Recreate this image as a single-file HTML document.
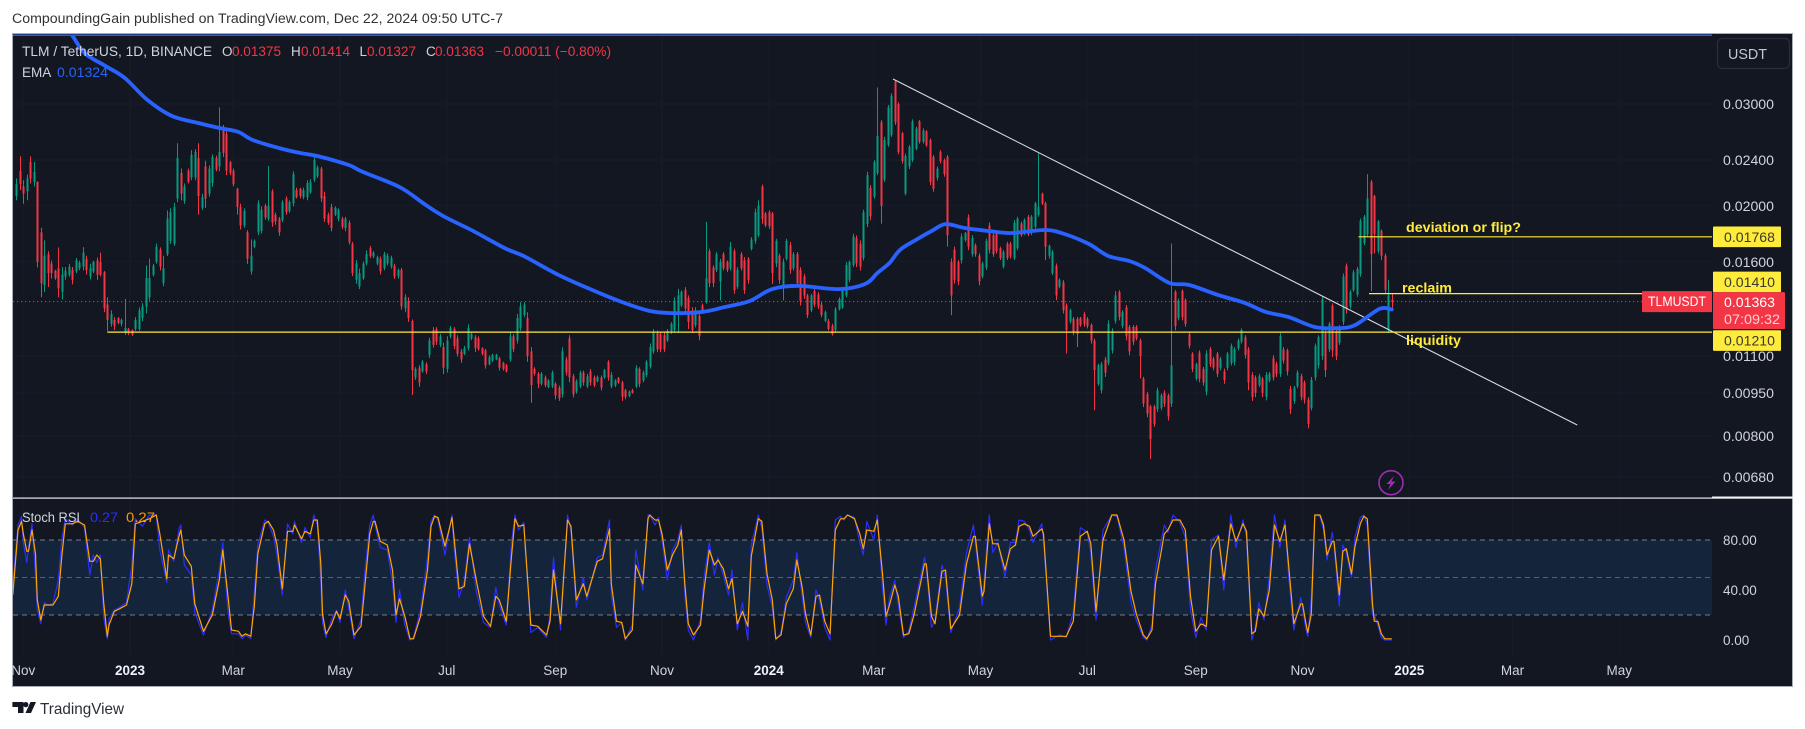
<!DOCTYPE html>
<html lang="en">
<head>
<meta charset="utf-8">
<title>TLM / TetherUS chart</title>
<style>
html,body{margin:0;padding:0;background:#fff;width:1805px;height:729px;overflow:hidden}
svg{display:block;font-family:"Liberation Sans",sans-serif}
</style>
</head>
<body>
<svg id="root" xmlns="http://www.w3.org/2000/svg" width="1805" height="729" viewBox="0 0 1805 729">
  <defs>
    <clipPath id="priceClip"><rect x="13" y="36" width="1699" height="461"/></clipPath>
    <clipPath id="stochClip"><rect x="13" y="499" width="1699" height="160"/></clipPath>
  </defs>
  <text x="12" y="23" font-size="13.5" fill="#333" textLength="491" lengthAdjust="spacingAndGlyphs">CompoundingGain published on TradingView.com, Dec 22, 2024 09:50 UTC-7</text>
  <rect x="12.5" y="33.5" width="1780" height="653" fill="#131722" stroke="#a8abb3" stroke-width="1"/>
  <rect x="13" y="34.5" width="1699" height="1.4" fill="#2962ff"/>
  <g id="grid"></g>
  <g id="stochBand"></g>
  <g id="candles" clip-path="url(#priceClip)"></g>
  <g id="overlays" clip-path="url(#priceClip)"></g>
  <g id="stochLines" clip-path="url(#stochClip)"></g>
  <rect x="13" y="497.5" width="1780" height="1.2" fill="#e8e8ea"/>
  <rect x="1712" y="496.5" width="81" height="2" fill="#f2f2f4"/>

  <g font-size="13.5">
    <text x="22" y="56" fill="#d1d4dc" textLength="190" lengthAdjust="spacingAndGlyphs">TLM / TetherUS, 1D, BINANCE</text>
    <text x="222" y="56" fill="#d1d4dc">O</text>
    <text x="232" y="56" fill="#f23645" textLength="49" lengthAdjust="spacingAndGlyphs">0.01375</text>
    <text x="291" y="56" fill="#d1d4dc">H</text>
    <text x="301" y="56" fill="#f23645" textLength="49" lengthAdjust="spacingAndGlyphs">0.01414</text>
    <text x="359.5" y="56" fill="#d1d4dc">L</text>
    <text x="367" y="56" fill="#f23645" textLength="49" lengthAdjust="spacingAndGlyphs">0.01327</text>
    <text x="426" y="56" fill="#d1d4dc">C</text>
    <text x="435" y="56" fill="#f23645" textLength="49" lengthAdjust="spacingAndGlyphs">0.01363</text>
    <text x="495" y="56" fill="#f23645" textLength="116" lengthAdjust="spacingAndGlyphs">−0.00011 (−0.80%)</text>
    <text x="22" y="77" fill="#d1d4dc">EMA</text>
    <text x="57" y="77" fill="#2962ff" textLength="51" lengthAdjust="spacingAndGlyphs">0.01324</text>
    <text x="22" y="522" fill="#d1d4dc" textLength="58" lengthAdjust="spacingAndGlyphs">Stoch RSI</text>
    <text x="90" y="522" fill="#2a2eff" textLength="28" lengthAdjust="spacingAndGlyphs">0.27</text>
    <text x="126" y="522" fill="#ff9800" textLength="29" lengthAdjust="spacingAndGlyphs">0.27</text>
  </g>

  <g>
    <rect x="1717.5" y="38.5" width="72" height="30" rx="5" fill="#131722" stroke="#2a2e39" stroke-width="1.2"/>
    <text x="1728" y="59" font-size="15" fill="#c4c7d0" textLength="39" lengthAdjust="spacingAndGlyphs">USDT</text>
  </g>

  <g id="axisLabels"></g>
  <g id="priceTags"></g>

  <g>
    <circle cx="1391" cy="482.7" r="12" fill="none" stroke="#9c2fb0" stroke-width="1.6"/>
    <polygon points="1394,476 1386.5,484 1390.5,484 1388,490 1395.5,481.5 1391.5,481.5" fill="#9c2fb0"/>
  </g>

  <g>
    <polygon points="12.4,702 23.5,702 23.5,713 18,713 18,707 12.4,707" fill="#131722"/>
    <circle cx="25.8" cy="704.6" r="2.6" fill="#131722"/>
    <polygon points="30.5,702 36,702 31,713 25.5,713" fill="#131722"/>
    <text x="40" y="714" font-size="16" fill="#2a2e39" textLength="84" lengthAdjust="spacingAndGlyphs">TradingView</text>
  </g>
</svg>
<script>
// ---- Price scale in 1/100000 USDT ----
const highs=[2230,2436,2215,2265,2436,2380,2205,1833,1743,1670,
1608,1550,1695,1568,1568,1588,1568,1625,1608,1697,
1640,1588,1608,1628,1660,1543,1390,1320,1284,1284,
1277,1381,1230,1223,1284,1334,1357,1578,1621,1588,
1721,1695,1640,1964,1980,2024,2566,2320,2186,2320,
2497,2506,2566,2098,2393,2350,2455,2442,2960,2760,
2705,2393,2320,2150,2017,1980,1815,1750,1750,2045,
1996,2017,2343,2137,1947,1914,2045,2078,2045,2295,
2150,2150,2150,2215,2224,2436,2348,2336,2116,1947,
2017,1996,1980,1914,1914,1888,1733,1612,1558,1602,
1675,1705,1670,1640,1635,1665,1655,1640,1588,1558,
1562,1407,1390,1272,1052,1060,1083,1073,1183,1234,
1234,1202,1160,1190,1240,1234,1195,1131,1145,1248,
1210,
1195,1190,1139,1132,1103,1110,1110,1096,1075,1066,
1208,1201,1301,1363,1363,1309,1139,1052,1032,1032,
1018,1003,1038,991,978,1139,1096,1195,1025,1003,
1038,1038,1025,1045,1018,1018,1018,1045,1082,1032,
1003,1012,997,965,959,965,1060,1052,1038,1082,
1156,1225,1217,1209,1209,1225,1259,1390,1437,1428,
1447,1400,1336,1336,1301,1355,1876,1686,1578,1664,
1620,1664,1609,1732,1686,1567,1664,1631,1631,1766,
1978,2045,2177,1952,1965,1952,1754,1653,1620,1754,
1732,1664,1664,1567,1526,1409,1409,1437,1418,1363,
1318,1275,1250,1336,1390,1447,1598,1609,1790,1778,
1743,1970,2290,2172,2399,3205,2814,2633,2988,3130,
3301,3023,2686,2463,2547,2822,2740,2814,2722,2704,
2615,2448,
2338,2498,2415,2449,1622,1700,1612,1792,1803,1933,
1780,1722,1655,1601,1756,1872,1792,1803,1700,1677,
1733,1733,1890,1915,1877,1902,1928,1928,2033,2465,
2108,2033,1715,1677,1590,1498,1488,1356,1328,1285,
1285,1285,1312,1285,1252,1179,1067,1075,1096,1268,
1228,1424,1430,1320,1348,1244,1244,1244,1179,1012,
954,906,906,970,947,960,947,1722,1430,1383,
1434,1383,1211,1117,1071,1125,1053,1125,1140,1096,
1118,1096,1046,1118,1156,1140,1179,1228,1195,1140,
1032,1018,1025,1012,1032,1032,1103,1075,1205,1140,
1133,977,977,1039,1025,998,934,1012,1156,1195,
1396,1219,1260,1356,1228,1244,1528,1590,1430,1549,
1569,1902,1928,2269,2217,2090,1890,1821,1655,1490,
1414];
const lows=[2045,2130,2017,2045,2186,2160,1565,1390,1420,1448,
1497,1490,1390,1378,1490,1508,1463,1530,1548,1548,
1522,1492,1530,1490,1510,1310,1216,1236,1220,1248,
1238,1196,1195,1192,1216,1217,1264,1304,1372,1510,
1588,1547,1452,1638,1719,1705,2030,2045,2016,2186,
2215,2215,1931,1968,1984,2075,2158,2295,2295,2430,
2260,2260,2162,1931,1820,1833,1588,1522,1690,1780,
1791,1892,1884,1840,1855,1776,1875,1931,1945,1996,
2060,2060,2053,2045,2098,2200,2236,2032,1875,1855,
1807,1920,1880,1824,1807,1715,1512,1467,1436,1490,
1578,1625,1625,1578,1522,1548,1578,1558,1495,1497,
1323,1310,1260,942,1000,973,1030,1024,1092,1137,
1150,1140,1024,1030,1180,1131,1098,1071,1104,1124,
1172,
1117,1124,1103,1046,1060,1075,1082,1038,1038,1030,
1075,1117,1156,1217,1284,1075,913,1018,968,978,
972,968,968,926,920,933,1018,991,933,947,
968,978,968,978,972,991,959,1005,997,968,
972,985,920,926,933,947,968,972,991,1012,
1046,1110,1117,1117,1117,1163,1201,1209,1206,1336,
1310,1225,1206,1233,1171,1301,1355,1447,1447,1536,
1372,1546,1536,1546,1409,1437,1546,1409,1467,1675,
1720,1766,1863,1838,1825,1466,1567,1466,1372,1609,
1526,1546,1447,1345,1381,1280,1310,1336,1327,1284,
1259,1217,1193,1209,1318,1327,1390,1476,1567,1567,
1546,1609,1838,1888,2058,2260,1863,2200,2530,2633,
2760,2456,2367,2086,2316,2380,2496,2563,2563,2530,
2172,2115,
2212,2369,2246,1700,1294,1468,1458,1590,1733,1677,
1633,1633,1458,1498,1549,1655,1633,1655,1612,1559,
1612,1622,1612,1677,1768,1780,1773,1780,1828,1915,
2007,1612,1622,1518,1374,1440,1303,1111,1252,1195,
1140,1236,1236,1228,1156,886,978,948,1012,1060,
1111,1252,1268,1228,1171,1103,1150,1171,1006,898,
862,730,830,880,886,898,851,898,1219,1268,
1268,1236,1133,1032,998,991,978,941,1053,1039,
1012,1039,985,1039,1060,1060,1125,1156,1089,960,
920,934,972,934,922,991,998,1012,1012,1067,
1018,873,910,968,922,910,825,886,998,1046,
1082,1012,1118,1096,1082,1150,1244,1303,1328,1420,
1392,1508,1710,1768,1424,1655,1655,1612,1411,1206,
1327];
const opens=[2080,2300,2160,2120,2380,2200,2200,1800,1460,1650,
1590,1545,1560,1420,1510,1520,1550,1540,1560,1570,
1620,1510,1540,1610,1600,1535,1350,1250,1270,1280,
1250,1205,1225,1220,1225,1225,1280,1340,1390,1520,
1600,1680,1470,1650,1740,1720,2060,2280,2040,2300,
2240,2240,2420,1985,2340,2100,2190,2420,2340,2740,
2660,2380,2300,2140,1990,1850,1800,1540,1700,1800,
1810,2000,1900,2120,1930,1900,1890,2060,1960,2020,
2130,2140,2070,2070,2110,2220,2250,2320,2080,1930,
1990,1930,1900,1900,1830,1870,1720,1490,1450,1500,
1590,1690,1635,1590,1620,1560,1590,1570,1575,1510,
1550,1330,1370,1265,1010,1050,1035,1065,1105,1220,
1225,1150,1140,1045,1190,1225,1180,1120,1110,1135,
1180,
1185,1180,1135,1125,1065,1080,1085,1090,1070,1060,
1085,1190,1170,1230,1295,1280,1120,1045,1025,985,
1010,972,975,985,970,945,1085,1180,1015,955,
975,1030,975,1035,1010,995,1010,1010,1075,975,
978,1008,990,960,938,960,975,1045,998,1020,
1055,1120,1205,1200,1195,1170,1210,1220,1300,1345,
1430,1385,1320,1245,1290,1345,1365,1670,1565,1550,
1480,1650,1600,1560,1670,1450,1650,1610,1620,1685,
1740,1780,2160,1940,1950,1940,1590,1640,1450,1620,
1710,1560,1650,1550,1510,1400,1320,1425,1405,1350,
1265,1265,1240,1220,1325,1335,1400,1490,1580,1760,
1720,1625,1860,2150,2075,2280,2790,2220,2550,2650,
3280,3000,2670,2100,2340,2400,2510,2800,2580,2690,
2600,2430,
2235,2480,2400,2430,1600,1680,1600,1610,1745,1910,
1650,1710,1640,1510,1565,1850,1780,1790,1690,1570,
1720,1720,1625,1690,1865,1790,1915,1795,1840,1930,
2100,2020,1640,1530,1575,1450,1475,1345,1262,1275,
1275,1280,1300,1275,1245,1170,985,960,1085,1070,
1125,1265,1420,1240,1335,1235,1235,1235,1170,1005,
945,900,900,890,895,950,940,910,1420,1280,
1425,1375,1200,1110,1005,1115,1045,955,1130,1088,
1110,1050,1035,1050,1070,1075,1135,1165,1185,1130,
1020,1010,980,1005,935,998,1090,1065,1025,1130,
1125,965,920,975,1015,990,925,895,1010,1060,
1100,1205,1130,1345,1215,1160,1260,1575,1340,1430,
1405,1525,1725,1785,2200,2080,1670,1810,1640,1220,
1375];
const closes=[2180,2180,2100,2230,2230,2290,1600,1470,1640,1530,
1530,1500,1440,1520,1545,1570,1490,1610,1595,1660,
1550,1560,1600,1520,1520,1330,1270,1300,1240,1255,
1270,1230,1205,1197,1270,1320,1340,1500,1500,1575,
1700,1570,1560,1900,1950,1990,2420,2100,2160,2200,
2450,2480,2080,2070,2060,2320,2430,2310,2480,2470,
2300,2280,2180,1990,1850,1960,1620,1640,1740,2020,
1970,1910,2000,1870,1880,1800,2030,1950,2030,2270,
2070,2080,2130,2190,2200,2400,2330,2060,1900,1870,
1830,1985,1965,1840,1900,1730,1530,1590,1530,1590,
1650,1640,1660,1630,1540,1650,1640,1625,1510,1550,
1340,1390,1280,1040,1045,990,1075,1035,1170,1150,
1165,1190,1050,1170,1230,1145,1110,1085,1135,1230,
1200,
1135,1130,1110,1060,1095,1105,1105,1050,1045,1035,
1190,1130,1280,1340,1350,1100,980,1025,985,1025,
980,998,1030,940,930,1120,1030,1010,945,995,
1030,990,1015,990,980,1012,970,1040,1010,1020,
998,990,935,935,955,950,1050,985,1030,1075,
1140,1210,1130,1130,1130,1215,1250,1370,1400,1420,
1330,1260,1220,1320,1190,1310,1500,1470,1470,1650,
1600,1560,1550,1700,1430,1550,1560,1430,1490,1750,
1950,2000,1900,1850,1845,1530,1740,1490,1600,1740,
1550,1650,1470,1370,1400,1295,1400,1350,1340,1295,
1310,1225,1200,1325,1380,1435,1580,1600,1770,1590,
1570,1950,2260,1920,2380,2640,2000,2600,2960,3100,
2790,2480,2390,2440,2530,2800,2720,2580,2700,2545,
2200,2140,
2320,2390,2270,1780,1400,1490,1480,1770,1795,1700,
1760,1650,1480,1590,1740,1680,1650,1670,1625,1665,
1625,1640,1870,1900,1780,1890,1785,1915,2020,1990,
2020,1700,1705,1665,1400,1490,1320,1220,1320,1210,
1200,1245,1250,1240,1170,1040,1060,1065,1030,1250,
1215,1400,1285,1310,1190,1120,1165,1180,1100,910,
875,790,840,960,940,910,865,1060,1240,1370,
1285,1250,1145,1045,1065,1005,990,1110,1065,1050,
1025,1088,1000,1110,1145,1130,1170,1220,1105,990,
935,950,1015,950,1020,1025,1010,1025,1190,1080,
1035,890,970,1030,935,925,840,1000,1145,1185,
1380,1040,1250,1125,1100,1235,1510,1325,1420,1535,
1555,1885,1915,2060,1650,1790,1880,1640,1430,1400,
1363];
const firstBarDay=-65;
const barStepDays=2;

const emaDays=[-47,-34,-26,-14,-3,10,24,39,51,62,70,85,97,107,125,133,154,169,180,195,214,226,245,264,281,297,310,327,340,354,367,382,405,420,427,434,440,449,458,466,477,491,504,523,534,548,559,571,580,594,605,622,637,649,662,677,690,700,714,721];
const emaValues=[4449,3980,3675,3490,3327,3048,2860,2781,2727,2684,2600,2518,2469,2439,2353,2289,2156,2007,1913,1817,1691,1632,1518,1431,1364,1316,1305,1311,1337,1369,1436,1454,1436,1465,1530,1593,1678,1746,1809,1860,1831,1809,1795,1817,1788,1718,1638,1606,1562,1471,1460,1402,1359,1311,1285,1235,1229,1244,1327,1324];

const stochDays=[-67,-64,-62,-61,-59,-58,-56,-54,-53,-51,-49,-47,-44,-41,-39,-37,-33,-30,-26,-23,-21,-19,-17,-15,-13,-12,-9,-6,-2,1,3,7,11,15,17,21,22,25,28,29,31,35,37,42,47,51,53,56,58,62,64,66,69,71,73,77,79,82,84,87,90,93,94,98,100,103,105,107,109,110,112,115,118,120,123,125,128,132,134,137,139,140,143,147,150,152,154,157,160,162,166,170,172,174,176,180,184,185,188,191,194,198,202,206,209,211,215,218,220,222,225,229,233,238,240,242,246,250,252,255,259,261,267,270,274,275,278,281,283,287,289,293,296,
297,300,302,304,307,310,313,315,317,319,322,326,328,331,334,336,339,342,344,347,350,353,355,359,361,364,367,369,372,375,379,381,384,386,389,392,394,397,400,403,406,408,410,414,417,419,421,425,427,430,432,434,437,439,442,445,448,454,455,458,460,464,466,469,474,478,482,483,487,488,491,493,496,500,503,506,508,511,514,516,521,522,526,531,535,539,543,547,549,552,556,561,564,568,572,575,579,581,584,586,591,593,596,600,603,606,609,612,615,618,622,625,629,632,636,638,641,643,645,648,651,654,657,660,662,665,669,
670,672,673,675,677,680,682,684,687,688,691,693,695,698,700,703,705,707,708,710,711,713,715,717,721];
const stochD=[36,88,95,85,71,71,88,69,32,16,28,28,28,35,67,93,93,95,92,63,63,68,65,29,3,12,23,25,28,45,93,95,97,100,85,49,68,65,83,88,68,59,29,7,20,48,72,35,8,7,3,5,3,27,69,93,95,88,76,41,87,87,92,81,87,85,96,96,61,21,5,12,23,17,36,31,4,11,40,85,95,95,79,76,56,20,33,19,1,1,19,56,91,99,98,75,98,84,41,43,77,47,19,11,35,32,15,67,97,91,92,12,11,4,15,56,13,96,91,32,45,35,63,65,89,45,15,14,1,8,60,45,97,
100,96,96,85,56,68,76,88,45,13,4,12,40,72,60,64,57,41,49,13,23,11,67,97,95,53,32,1,4,29,41,64,43,21,4,35,36,15,5,88,97,97,100,97,85,73,88,87,96,53,19,28,44,35,4,5,20,61,61,19,13,55,56,9,20,61,83,83,35,39,93,77,77,56,73,76,91,93,91,83,89,85,3,3,3,15,83,87,77,23,80,100,100,80,39,21,4,1,8,45,85,88,96,96,88,35,7,13,11,72,83,48,93,79,93,87,5,7,25,19,40,92,79,92,61,13,29,
29,13,6,21,100,100,92,68,79,79,36,71,73,53,75,93,99,97,75,29,15,15,5,1,1];
const stochK=[44,92,99,78,62,74,93,52,24,13,30,28,29,48,80,97,92,97,90,52,68,62,68,18,1,17,24,26,30,60,97,91,100,100,72,46,72,63,89,92,60,52,22,4,24,56,78,22,5,5,1,4,1,38,76,96,94,83,68,36,93,85,95,78,90,82,100,92,48,14,2,16,24,14,40,25,1,16,52,92,100,92,74,72,46,14,40,12,0,2,24,66,95,100,96,68,100,76,34,47,82,38,14,10,42,28,12,78,100,88,94,6,10,2,20,66,8,100,87,26,50,32,66,68,96,36,10,14,0,12,72,40,100,
100,92,98,80,48,72,80,92,36,8,0,16,50,78,52,66,52,36,56,8,30,0,76,100,90,44,26,0,6,34,48,70,36,14,2,40,32,10,0,96,99,96,100,98,78,68,95,80,100,42,12,34,48,28,2,7,26,66,58,10,16,60,50,6,26,70,92,78,28,46,100,70,78,50,78,78,96,95,88,78,93,80,0,4,2,22,90,86,70,16,88,100,99,74,30,16,2,0,12,56,92,86,100,94,82,24,2,18,8,80,84,40,100,74,96,82,0,10,30,16,50,100,74,96,52,8,34,
26,8,3,34,100,99,88,64,86,76,27,76,70,50,82,98,100,92,66,20,20,12,2,0,0];

const priceTicks=[3000,2400,2000,1600,1100,950,800,680];
const priceTickLabels=['0.03000','0.02400','0.02000','0.01600','0.01100','0.00950','0.00800','0.00680'];
const stochTicks=[80,40,0];
const stochTickLabels=['80.00','40.00','0.00'];
const stochGuides=[80,50,20];
const timeTickDays=[-61,0,59,120,181,243,304,365,425,486,547,609,670,731,790,851];
const timeTickLabels=['Nov','2023','Mar','May','Jul','Sep','Nov','2024','Mar','May','Jul','Sep','Nov','2025','Mar','May'];

const levelPrices=[1768,1410,1210];
const levelStartDays=[702,708,-13];
const levelNames=['deviation-level','reclaim-level','liquidity-level'];
const levelNotes=['deviation or flip?','reclaim','liquidity'];
const lastPrice=1363;
const trendDays=[436,827];
const trendPrices=[3314,836];

// ---- Axis functions ----
function xScale(day){return 130+day*1.75;}
function yScale(price){return 104+251.2*Math.log(3000/price);}
function stochY(v){return 640-v*1.25;}

const NS='http://www.w3.org/2000/svg';
function make(tag,attrs,parent,txt){
  const el=document.createElementNS(NS,tag);
  for(const k in attrs){el.setAttribute(k,attrs[k]);}
  if(txt!==undefined){el.textContent=txt;}
  parent.appendChild(el);
  return el;
}
const gridG=document.getElementById('grid');
const bandG=document.getElementById('stochBand');
const candlesG=document.getElementById('candles');
const overlaysG=document.getElementById('overlays');
const stochG=document.getElementById('stochLines');
const axisG=document.getElementById('axisLabels');
const tagsG=document.getElementById('priceTags');
const RED='#f23645',TEAL='#089981',YEL='#ffeb3b';

// Grid
timeTickDays.forEach(function(d){
  const l=make('line',{x1:xScale(d),x2:xScale(d),y1:36,y2:655,stroke:'#181c28','stroke-width':1},gridG);
  
  
});
priceTicks.forEach(function(p){
  const l=make('line',{x1:13,x2:1712,y1:yScale(p),y2:yScale(p),stroke:'#181c28','stroke-width':1},gridG);
  
  
});

// Stoch band and guides
const band=make('rect',{x:13,y:stochY(stochGuides[0]),width:1699,height:stochY(stochGuides[2])-stochY(stochGuides[0]),fill:'#14243a'},bandG);


stochGuides.forEach(function(v,i){
  const l=make('line',{x1:13,x2:1712,y1:stochY(v),y2:stochY(v),stroke:i===1?'#5c606b':'#787b86','stroke-width':1,'stroke-dasharray':'5 4'},bandG);
  
  
});

// Candles
highs.forEach(function(h,i){
  const cx=Math.round(xScale(firstBarDay+barStepDays*i));
  const col=closes[i]>=opens[i]?TEAL:RED;
  const g=make('g',{},candlesG);
  
  
  const top=yScale(h),bot=yScale(lows[i]);
  make('rect',{x:cx,y:top,width:1,height:Math.max(1,bot-top),fill:col},g);
  const bt=yScale(Math.max(opens[i],closes[i])),bb=yScale(Math.min(opens[i],closes[i]));
  make('rect',{x:cx-0.5,y:bt,width:2,height:Math.max(1,bb-bt),fill:col},g);
});

// Last price dotted line
const dotted=make('line',{x1:13,x2:1642,y1:yScale(lastPrice)-0.5,y2:yScale(lastPrice)-0.5,stroke:RED,'stroke-width':1,'stroke-dasharray':'1.2 2.8'},overlaysG);



// Trendline
const trend=make('line',{x1:xScale(trendDays[0]),y1:yScale(trendPrices[0]),x2:xScale(trendDays[1]),y2:yScale(trendPrices[1]),stroke:'#d8dbe2','stroke-width':1.1},overlaysG);



// EMA: smooth curve through the read values
const emaXY=emaDays.map(function(d,i){return [xScale(d),yScale(emaValues[i])];});
let emaPath='M'+emaXY[0][0].toFixed(1)+' '+emaXY[0][1].toFixed(1);
for(let i=0;i<emaXY.length-1;i++){
  const p0=emaXY[Math.max(0,i-1)],p1=emaXY[i],p2=emaXY[i+1],p3=emaXY[Math.min(emaXY.length-1,i+2)];
  const c1x=p1[0]+(p2[0]-p0[0])/6,c1y=p1[1]+(p2[1]-p0[1])/6;
  const c2x=p2[0]-(p3[0]-p1[0])/6,c2y=p2[1]-(p3[1]-p1[1])/6;
  emaPath+=' C'+c1x.toFixed(1)+' '+c1y.toFixed(1)+' '+c2x.toFixed(1)+' '+c2y.toFixed(1)+' '+p2[0].toFixed(1)+' '+p2[1].toFixed(1);
}
const emaLine=make('path',{d:emaPath,fill:'none',stroke:'#2962ff','stroke-width':3.8,'stroke-linejoin':'round','stroke-linecap':'round'},overlaysG);



// Horizontal levels
const levelEnds=[1712,1642,1712];
const noteX=[1406,1402,1406];
const noteLen=[115,50,55];
const noteDy=[-5,-1,13];
levelPrices.forEach(function(p,i){
  const y=yScale(p);
  const l=make('line',{x1:xScale(levelStartDays[i]),x2:levelEnds[i],y1:y,y2:y,stroke:YEL,'stroke-width':1.2},overlaysG);
  
  
  const t=make('text',{x:noteX[i],y:y+noteDy[i],'font-size':13.5,'font-weight':'bold',fill:YEL,textLength:noteLen[i],lengthAdjust:'spacingAndGlyphs'},overlaysG,levelNotes[i]);
  
  
});

// Stoch lines
function stochPts(arr){return stochDays.map(function(d,i){return xScale(d).toFixed(1)+','+stochY(arr[i]).toFixed(1);}).join(' ');}
const kLine=make('polyline',{points:stochPts(stochK),fill:'none',stroke:'#2a2eff','stroke-width':1.2,'stroke-linejoin':'round'},stochG);


const dLine=make('polyline',{points:stochPts(stochD),fill:'none',stroke:'#ffa600','stroke-width':1.2,'stroke-linejoin':'round'},stochG);



// Axis labels
priceTicks.forEach(function(p,i){
  const t=make('text',{x:1723,y:yScale(p)+5,'font-size':13.5,fill:'#d1d4dc',textLength:51,lengthAdjust:'spacingAndGlyphs'},axisG,priceTickLabels[i]);
  
  
});
stochTicks.forEach(function(v,i){
  const t=make('text',{x:1723,y:stochY(v)+5,'font-size':13.5,fill:'#d1d4dc'},axisG,stochTickLabels[i]);
  
  
});
timeTickDays.forEach(function(d,i){
  const isYear=/^\d+$/.test(timeTickLabels[i]);
  const t=make('text',{x:xScale(d),y:675,'font-size':13.5,'text-anchor':'middle','font-weight':isYear?'bold':'normal',fill:isYear?'#f0f3fa':'#d1d4dc'},axisG,timeTickLabels[i]);
  
  
});

// Price tags
const tagPrices=[1768,1410,1210];
const tagLabels=['0.01768','0.01410','0.01210'];
const tagNudges=[0,-11.7,8.5];
tagPrices.forEach(function(p,i){
  const cy=yScale(p)+tagNudges[i];
  const r=make('rect',{x:1713,y:cy-10.3,width:68,height:20.6,fill:YEL,rx:1},tagsG);
  
  
  const t=make('text',{x:1724,y:cy+5,'font-size':13.5,fill:'#3a3a2a',textLength:51,lengthAdjust:'spacingAndGlyphs'},tagsG,tagLabels[i]);
  
  
});
const lastY=yScale(lastPrice);
const lastRect=make('rect',{x:1713,y:lastY-10,width:72,height:37,fill:RED,rx:1},tagsG);


const lastText=make('text',{x:1724,y:lastY+5,'font-size':13.5,fill:'#fff',textLength:51,lengthAdjust:'spacingAndGlyphs'},tagsG,'0.01363');


const countdown=make('text',{x:1724,y:lastY+22,'font-size':13.5,fill:'#ffd0d4',textLength:56,lengthAdjust:'spacingAndGlyphs'},tagsG,'07:09:32');


const symRect=make('rect',{x:1642,y:lastY-11,width:70,height:21,fill:RED,rx:1},tagsG);


const symText=make('text',{x:1648,y:lastY+4,'font-size':13.5,fill:'#fff',textLength:58,lengthAdjust:'spacingAndGlyphs'},tagsG,'TLMUSDT');


</script>
</body>
</html>
